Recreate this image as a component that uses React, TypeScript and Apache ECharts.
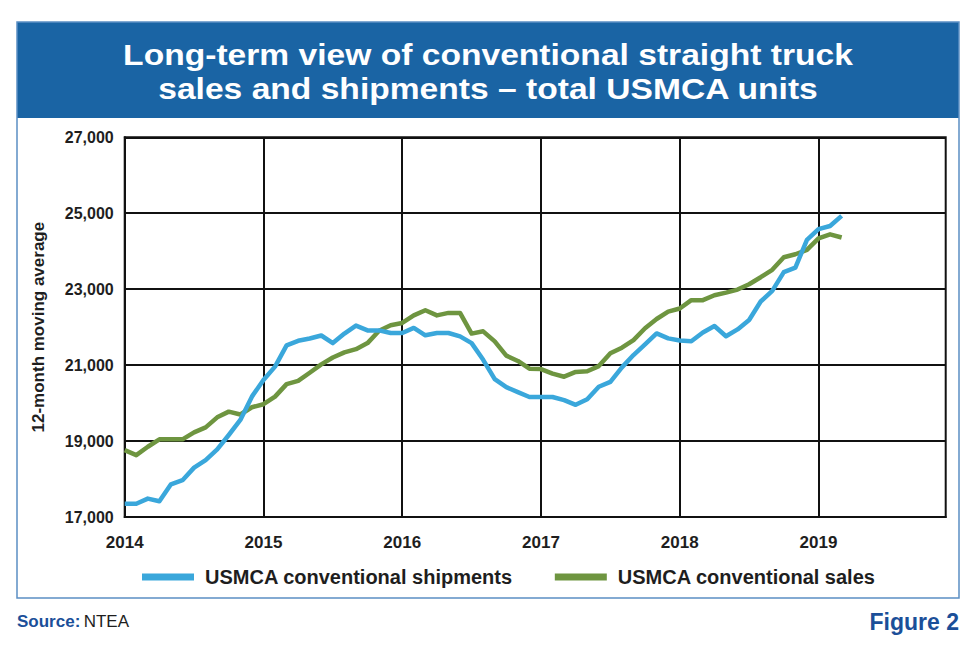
import React, { useEffect, useRef } from "react";
import * as echarts from "echarts";

const years = ["2014", "2015", "2016", "2017", "2018", "2019"];
const monthsPerYear = 12;
const yTickLabels = ["17,000", "19,000", "21,000", "23,000", "25,000", "27,000"];

const shipments = [
  17350, 17350, 17485, 17415, 17860, 17970, 18300, 18500, 18780, 19160, 19555, 20170,
  20610, 20960, 21520, 21640, 21700, 21780, 21580, 21830, 22040, 21915, 21915, 21845,
  21845, 21980, 21785, 21845, 21845, 21757, 21580, 21140, 20630, 20420, 20290, 20160,
  20160, 20160, 20080, 19955, 20100, 20430, 20560, 20940, 21265, 21545, 21835, 21705,
  21650, 21630, 21860, 22030, 21760, 21940, 22190, 22675, 22955, 23450, 23570, 24300,
  24580, 24665, 24930,
];

const sales = [
  18760, 18630, 18850, 19045, 19045, 19045, 19230, 19360, 19625, 19775, 19700, 19890,
  19970, 20170, 20500, 20585, 20800, 21020, 21200, 21335, 21420, 21580, 21905, 22050,
  22110, 22310, 22445, 22310, 22375, 22375, 21830, 21890, 21625, 21250, 21110, 20905,
  20895, 20775, 20695, 20820, 20840, 20975, 21310, 21460, 21660, 21970, 22215, 22410,
  22490, 22710, 22710, 22840, 22910, 22990, 23130, 23315, 23510, 23840, 23920, 24035,
  24340, 24445, 24360,
];

const titleLines = [
  "Long-term view of conventional straight truck",
  "sales and shipments – total USMCA units",
];
const seriesNames = ["USMCA conventional shipments", "USMCA conventional sales"];
const yAxisName = "12-month moving average";

const FONT = "'Liberation Sans', Arial, sans-serif";
const HEADER_BLUE = "#1a64a4";
const FRAME_BLUE = "#5b8fc4";
const LINE_BLUE = "#3aa7db";
const LINE_GREEN = "#6e9540";
const NOTE_BLUE = "#1b4f99";
const DARK = "#1e1e1e";

export default function App() {
  const ref = useRef<HTMLDivElement>(null);

  useEffect(() => {
    if (!ref.current) return;
    const chart = echarts.init(ref.current, undefined, { renderer: "svg" });
    const categories: string[] = [];
    years.forEach((y) => {
      for (let m = 1; m <= monthsPerYear; m++) categories.push(`${y}-${String(m).padStart(2, "0")}`);
    });
    const yearTick = (idx: number) => idx % monthsPerYear === 0;

    chart.setOption({
      animation: false,
      backgroundColor: "#ffffff",
      grid: {
        left: 124.7,
        top: 137.3,
        right: 34.3,
        bottom: 143,
        show: true,
        borderColor: "#111",
        borderWidth: 2,
        backgroundColor: "transparent",
      },
      xAxis: {
        type: "category",
        data: categories,
        boundaryGap: false,
        axisLine: { show: true, lineStyle: { color: "#111", width: 2 } },
        axisTick: { show: false },
        axisLabel: {
          interval: (idx: number) => yearTick(idx),
          formatter: (v: string) => v.slice(0, 4),
          color: DARK,
          fontFamily: FONT,
          fontWeight: "bold",
          fontSize: 17,
          margin: 17,
        },
        splitLine: {
          show: true,
          interval: (idx: number) => yearTick(idx),
          lineStyle: { color: "#111", width: 2 },
        },
      },
      yAxis: {
        type: "value",
        min: 17000,
        max: 27000,
        interval: 2000,
        name: yAxisName,
        nameLocation: "middle",
        nameRotate: 90,
        nameGap: 78,
        nameTextStyle: { color: DARK, fontFamily: FONT, fontWeight: "bold", fontSize: 17 },
        axisLine: { show: true, lineStyle: { color: "#111", width: 2 } },
        axisTick: { show: false },
        axisLabel: {
          formatter: (v: number) => yTickLabels[Math.round((v - 17000) / 2000)] ?? "",
          color: DARK,
          fontFamily: FONT,
          fontWeight: "bold",
          fontSize: 16,
          margin: 11,
        },
        splitLine: { show: true, lineStyle: { color: "#111", width: 2 } },
      },
      legend: {
        data: seriesNames,
        left: 137,
        top: 562,
        icon: "rect",
        itemWidth: 52,
        itemHeight: 7,
        itemGap: 42,
        textStyle: {
          color: DARK,
          fontFamily: FONT,
          fontWeight: "bold",
          fontSize: 20,
          padding: [0, 0, 0, 6],
        },
      },
      series: [
        {
          name: seriesNames[1],
          type: "line",
          data: sales,
          showSymbol: false,
          symbol: "none",
          lineStyle: { color: LINE_GREEN, width: 4.5, join: "round" },
          itemStyle: { color: LINE_GREEN },
          z: 3,
        },
        {
          name: seriesNames[0],
          type: "line",
          data: shipments,
          showSymbol: false,
          symbol: "none",
          lineStyle: { color: LINE_BLUE, width: 4.5, join: "round" },
          itemStyle: { color: LINE_BLUE },
          z: 4,
        },
      ],
      graphic: [
        {
          type: "rect",
          shape: { x: 17, y: 22, width: 942, height: 96 },
          style: { fill: HEADER_BLUE },
          z: 0,
        },
        {
          type: "rect",
          shape: { x: 17, y: 22, width: 942, height: 576 },
          style: { fill: "none", stroke: FRAME_BLUE, lineWidth: 1.5 },
          z: 0,
        },
        {
          type: "text",
          x: 488,
          y: 55,
          scaleX: 1.12,
          style: {
            text: titleLines[0],
            fill: "#ffffff",
            font: `bold 30px ${FONT}`,
            textAlign: "center",
            textVerticalAlign: "middle",
          },
        },
        {
          type: "text",
          x: 488,
          y: 89,
          scaleX: 1.12,
          style: {
            text: titleLines[1],
            fill: "#ffffff",
            font: `bold 30px ${FONT}`,
            textAlign: "center",
            textVerticalAlign: "middle",
          },
        },
        {
          type: "text",
          x: 17,
          y: 621,
          style: {
            text: "{b|Source:} {n|NTEA}",
            textVerticalAlign: "middle",
            rich: {
              b: { fill: NOTE_BLUE, font: `bold 17px ${FONT}` },
              n: { fill: DARK, font: `17px ${FONT}` },
            },
          },
        },
        {
          type: "text",
          x: 959,
          y: 622,
          style: {
            text: "Figure 2",
            fill: NOTE_BLUE,
            font: `bold 23px ${FONT}`,
            textAlign: "right",
            textVerticalAlign: "middle",
          },
        },
      ],
    });
    return () => chart.dispose();
  }, []);

  return (
    <div
      ref={ref}
      style={{ position: "fixed", left: 0, top: 0, width: 980, height: 660, background: "#fff" }}
    />
  );
}
